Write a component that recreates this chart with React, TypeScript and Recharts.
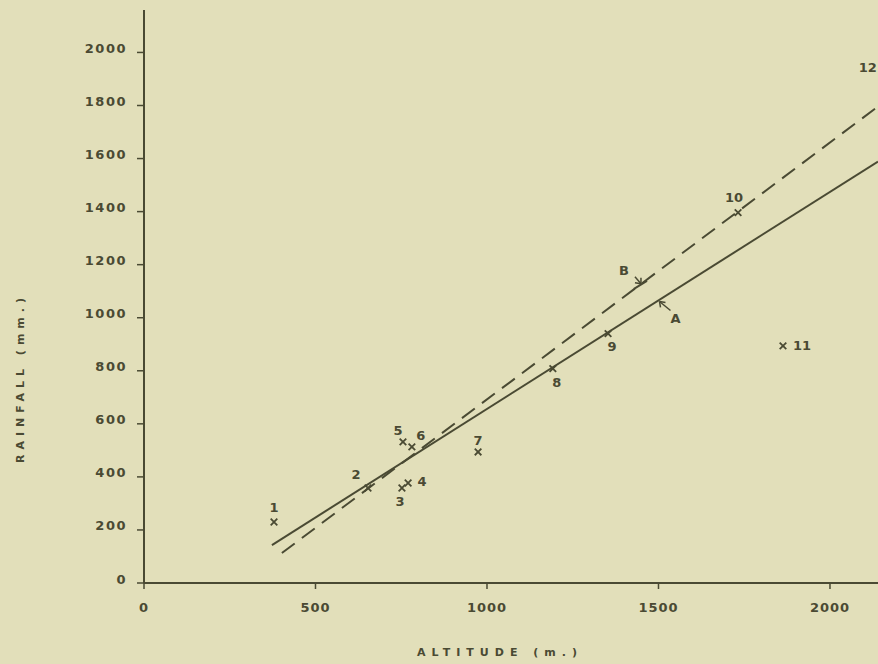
import { ComposedChart, Scatter, XAxis, YAxis, Label } from "recharts";

// stations (altitude in m, rainfall in mm)
const stationIds = ["1", "2", "3", "4", "5", "6", "7", "8", "9", "10", "11", "12"];
const altitudes = [379, 653, 752, 770, 755, 781, 974, 1192, 1353, 1732, 1863, 2157];
const rainfall = [230, 358, 358, 377, 532, 513, 494, 808, 940, 1396, 894, 1879];

// fitted lines: A solid, B dashed
const lineAAltitude = [373, 2140];
const lineARainfall = [143, 1589];
const lineBAltitude = [402, 2140];
const lineBRainfall = [113, 1796];

// arrows marking the lines
const markNames = ["A", "B"];
const markAltitudes = [1500, 1446];
const markRainfall = [1065, 1124];

const xTicks = [0, 500, 1000, 1500, 2000];
const yTicks = [0, 200, 400, 600, 800, 1000, 1200, 1400, 1600, 1800, 2000];

const INK = "#4a4a33";
const BG = "#e2dfba";
const FONT = "'DejaVu Sans', sans-serif";

// where each station number sits relative to its cross
const labelOffsets: Record<string, [number, number, string]> = {
  "1": [0, -14, "middle"],
  "2": [-12, -14, "middle"],
  "3": [-2, 13, "middle"],
  "4": [14, -1, "middle"],
  "5": [-5, -11, "middle"],
  "6": [9, -11, "middle"],
  "7": [0, -11, "middle"],
  "8": [4, 14, "middle"],
  "9": [4, 13, "middle"],
  "10": [-4, -15, "middle"],
  "11": [10, 0, "start"],
  "12": [-7, -17, "end"],
};

const stations = stationIds.map((id, i) => ({ id, alt: altitudes[i], rain: rainfall[i] }));
const lineA = lineAAltitude.map((alt, i) => ({ alt, rain: lineARainfall[i] }));
const lineB = lineBAltitude.map((alt, i) => ({ alt, rain: lineBRainfall[i] }));
const marks = markNames.map((name, i) => ({ name, alt: markAltitudes[i], rain: markRainfall[i] }));

const textStyle = { fontFamily: FONT, fontWeight: 700, fill: INK };

function Cross(props: any) {
  const { cx, cy, payload } = props;
  const [dx, dy, anchor] = labelOffsets[payload.id];
  const s = 3.3;
  return (
    <g>
      <path
        d={`M${cx - s},${cy - s}L${cx + s},${cy + s}M${cx + s},${cy - s}L${cx - s},${cy + s}`}
        stroke={INK}
        strokeWidth={1.8}
      />
      <text x={cx + dx} y={cy + dy} textAnchor={anchor} dominantBaseline="central" fontSize={13} {...textStyle}>
        {payload.id}
      </text>
    </g>
  );
}

function Mark(props: any) {
  const { cx, cy, payload } = props;
  if (payload.name === "A") {
    return (
      <g stroke={INK} strokeWidth={1.5} fill="none">
        <path d={`M${cx + 12},${cy + 10}L${cx + 1},${cy + 1}`} />
        <path d={`M${cx + 1},${cy + 1}L${cx + 7},${cy + 2}M${cx + 1},${cy + 1}L${cx + 2},${cy + 7}`} />
        <text x={cx + 17} y={cy + 18} textAnchor="middle" dominantBaseline="central" fontSize={13} {...textStyle} stroke="none">
          A
        </text>
      </g>
    );
  }
  return (
    <g stroke={INK} strokeWidth={1.5} fill="none">
      <path d={`M${cx - 5},${cy - 8}L${cx + 1},${cy - 1}`} />
      <path d={`M${cx + 1},${cy - 1}L${cx - 5},${cy - 2}M${cx + 1},${cy - 1}L${cx + 1},${cy - 7}`} />
      <path d={`M${cx - 6},${cy + 4}L${cx + 7},${cy - 4}`} strokeWidth={2} />
      <text x={cx - 16} y={cy - 14} textAnchor="middle" dominantBaseline="central" fontSize={13} {...textStyle} stroke="none">
        B
      </text>
    </g>
  );
}

function YTick(props: any) {
  const { x, y, payload } = props;
  return (
    <text x={x} y={y - 4} textAnchor="end" dominantBaseline="central" fontSize={13} letterSpacing={1.5} {...textStyle}>
      {payload.value}
    </text>
  );
}

function XTick(props: any) {
  const { x, y, payload } = props;
  return (
    <text x={x} y={y + 6} textAnchor="middle" dominantBaseline="central" fontSize={13} letterSpacing={1} {...textStyle}>
      {payload.value}
    </text>
  );
}

const none = () => <g />;

export default function App() {
  return (
    <div style={{ position: "absolute", left: 0, top: 0, width: 878, height: 664, background: BG }}>
      <ComposedChart width={878} height={664} margin={{ top: 10, right: 0, bottom: 21, left: 0 }}>
        <XAxis
          type="number"
          dataKey="alt"
          domain={[0, 2140]}
          allowDataOverflow
          ticks={xTicks}
          tick={<XTick />}
          tickSize={6}
          tickMargin={12}
          height={60}
          stroke={INK}
          strokeWidth={2}
          tickLine={{ stroke: INK, strokeWidth: 1.5 }}
        >
          <Label
            content={(p: any) => (
              <text
                x={p.viewBox.x + 356}
                y={p.viewBox.y + 69}
                textAnchor="middle"
                dominantBaseline="central"
                fontSize={11}
                letterSpacing={6}
                {...textStyle}
              >
                ALTITUDE (m.)
              </text>
            )}
          />
        </XAxis>
        <YAxis
          type="number"
          dataKey="rain"
          domain={[0, 2160]}
          allowDataOverflow
          ticks={yTicks}
          tick={<YTick />}
          tickSize={7}
          tickMargin={10}
          width={144}
          stroke={INK}
          strokeWidth={2}
          tickLine={{ stroke: INK, strokeWidth: 1.5 }}
        >
          <Label
            content={() => (
              <text
                x={20}
                y={378}
                transform="rotate(-90 20 378)"
                textAnchor="middle"
                dominantBaseline="central"
                fontSize={11}
                letterSpacing={5}
                {...textStyle}
              >
                RAINFALL (mm.)
              </text>
            )}
          />
        </YAxis>
        <Scatter data={lineA} line={{ stroke: INK, strokeWidth: 2 }} shape={none} isAnimationActive={false} />
        <Scatter
          data={lineB}
          line={{ stroke: INK, strokeWidth: 2, strokeDasharray: "16 9" }}
          shape={none}
          isAnimationActive={false}
        />
        <Scatter data={stations} shape={<Cross />} isAnimationActive={false} />
        <Scatter data={marks} shape={<Mark />} isAnimationActive={false} />
      </ComposedChart>
    </div>
  );
}
